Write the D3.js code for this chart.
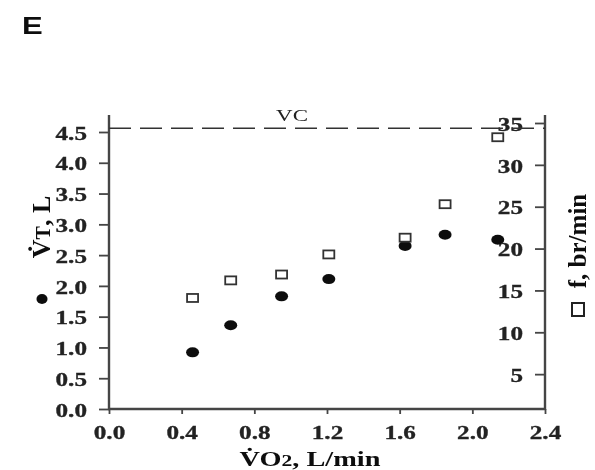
<!DOCTYPE html>
<html>
<head>
<meta charset="utf-8">
<script src="https://cdn.jsdelivr.net/npm/d3@7"></script>
<style>
  body { margin: 0; background: #fff; }
  svg { display: block; }
  .tick text { font-family: "Liberation Serif", "DejaVu Serif", serif; font-weight: bold; font-size: 18px; fill: #222; stroke: #222; stroke-width: 0.3; }
</style>
</head>
<body>
<svg id="chart" width="595" height="470"></svg>
<script>
// Oxygen uptake (L/min) for each exercise stage
const vo2 = [0.46, 0.67, 0.95, 1.21, 1.63, 1.85, 2.14];
// Tidal volume (L), filled circles, left axis
const tidalVolume = [0.92, 1.36, 1.83, 2.11, 2.65, 2.83, 2.75];
// Breathing frequency (breaths/min), open squares, right axis
const breathFreq = [14.1, 16.2, 16.9, 19.3, 21.3, 25.3, 33.3];
// Vital capacity reference line (L)
const vitalCapacity = 4.56;

const xTicks = [0.0, 0.4, 0.8, 1.2, 1.6, 2.0, 2.4];
const leftTicks = [0.0, 0.5, 1.0, 1.5, 2.0, 2.5, 3.0, 3.5, 4.0, 4.5];
const rightTicks = [5, 10, 15, 20, 25, 30, 35];

const svg = d3.select("#chart");
svg.append("defs").append("filter").attr("id", "soft")
  .append("feGaussianBlur").attr("stdDeviation", 0.5);
const g = svg.append("g").attr("filter", "url(#soft)");

const plotLeft = 109, plotRight = 545, plotBottom = 409, plotTop = 115;
const stretch = 1.4; // tick glyphs are set wide

const x = d3.scaleLinear().domain([0, 2.4]).range([plotLeft, plotRight]);
const yL = d3.scaleLinear().domain([0, 4.5]).range([plotBottom, 132]);
const yR = d3.scaleLinear().domain([0, 35]).range([416, 123]);

const axisColor = "#444";
const serif = "Liberation Serif, serif";

// Widen tick label glyphs while keeping their anchor point
function widen(sel, dx, dy) {
  sel.selectAll(".tick text")
    .attr("x", 0).attr("y", 0).attr("dy", null)
    .attr("dominant-baseline", "central")
    .attr("transform", `translate(${dx},${dy}) scale(${stretch},1)`);
}

// Left axis
const gl = g.append("g").attr("transform", `translate(${plotLeft},0)`)
  .call(d3.axisLeft(yL).tickValues(leftTicks).tickFormat(d3.format(".1f")).tickSize(10).tickSizeOuter(0));
gl.select(".domain").remove();
gl.selectAll(".tick line").attr("stroke", axisColor).attr("stroke-width", 1.8);
widen(gl, -22, 1);

// Right axis, ticks pointing inward
const gr = g.append("g").attr("transform", `translate(${plotRight},0)`)
  .call(d3.axisLeft(yR).tickValues(rightTicks).tickFormat(d3.format("d")).tickSize(10).tickSizeOuter(0));
gr.select(".domain").remove();
gr.selectAll(".tick line").attr("stroke", axisColor).attr("stroke-width", 1.8);
widen(gr, -22, 1);

// Bottom axis
const gb = g.append("g").attr("transform", `translate(0,${plotBottom})`)
  .call(d3.axisBottom(x).tickValues(xTicks).tickFormat(d3.format(".1f")).tickSize(5).tickSizeOuter(0));
gb.select(".domain").remove();
gb.selectAll(".tick line").attr("stroke", axisColor).attr("stroke-width", 1.8);
widen(gb, 0, 24);

// Axis lines
g.append("line").attr("x1", plotLeft).attr("x2", plotLeft).attr("y1", plotTop).attr("y2", plotBottom + 1)
  .attr("stroke", axisColor).attr("stroke-width", 2.4);
g.append("line").attr("x1", plotRight).attr("x2", plotRight).attr("y1", plotTop).attr("y2", plotBottom + 1)
  .attr("stroke", axisColor).attr("stroke-width", 2.4);
g.append("line").attr("x1", plotLeft - 1).attr("x2", plotRight + 1).attr("y1", plotBottom).attr("y2", plotBottom)
  .attr("stroke", axisColor).attr("stroke-width", 2.4);

// Vital capacity dashed line
g.append("line")
  .attr("x1", plotLeft).attr("x2", plotRight)
  .attr("y1", yL(vitalCapacity)).attr("y2", yL(vitalCapacity))
  .attr("stroke", "#333").attr("stroke-width", 1.6)
  .attr("stroke-dasharray", "22,9");
g.append("text")
  .attr("transform", `translate(292,${yL(vitalCapacity) - 7}) scale(1.35,1)`)
  .attr("text-anchor", "middle")
  .attr("font-family", serif).attr("font-size", 17)
  .attr("fill", "#222")
  .text("VC");

// Tidal volume points
g.selectAll("ellipse.vt").data(vo2.map((v, i) => [v, tidalVolume[i]]))
  .join("ellipse").attr("class", "vt")
  .attr("cx", d => x(d[0])).attr("cy", d => yL(d[1]))
  .attr("rx", 6.5).attr("ry", 5)
  .attr("fill", "#111");

// Breathing frequency points
g.selectAll("rect.f").data(vo2.map((v, i) => [v, breathFreq[i]]))
  .join("rect").attr("class", "f")
  .attr("x", d => x(d[0]) - 5.5).attr("y", d => yR(d[1]) - 4)
  .attr("width", 11).attr("height", 8)
  .attr("fill", "#fff").attr("stroke", "#333").attr("stroke-width", 1.8);

// Panel letter
g.append("text").attr("transform", "translate(22,34) scale(1.35,1)")
  .attr("font-family", "Liberation Sans, Arial, sans-serif").attr("font-weight", "bold")
  .attr("font-size", 23).attr("fill", "#111").text("E");

// X axis title
const xt = g.append("text").attr("transform", "translate(310,466) scale(1.35,1)")
  .attr("text-anchor", "middle")
  .attr("font-family", serif).attr("font-weight", "bold")
  .attr("font-size", 21).attr("fill", "#111");
xt.append("tspan").text("V\u0307O");
xt.append("tspan").attr("font-size", 16).text("2");
xt.append("tspan").text(", L/min");

// Left axis title with its filled-circle key
g.append("ellipse").attr("cx", 42).attr("cy", 299).attr("rx", 5.5).attr("ry", 5).attr("fill", "#111");
const lt = g.append("text")
  .attr("transform", "translate(50,227) rotate(-90)")
  .attr("text-anchor", "middle")
  .attr("font-family", serif).attr("font-weight", "bold")
  .attr("font-size", 26).attr("fill", "#111");
lt.append("tspan").text("V\u0307");
lt.append("tspan").attr("font-size", 20).text("T");
lt.append("tspan").text(", L");

// Right axis title with its open-square key
g.append("rect").attr("x", 572).attr("y", 303).attr("width", 12).attr("height", 13)
  .attr("fill", "#fff").attr("stroke", "#222").attr("stroke-width", 2);
g.append("text")
  .attr("transform", "translate(586,241) rotate(-90)")
  .attr("text-anchor", "middle")
  .attr("font-family", serif).attr("font-weight", "bold")
  .attr("font-size", 25).attr("fill", "#111")
  .text("f, br/min");
</script>
</body>
</html>
